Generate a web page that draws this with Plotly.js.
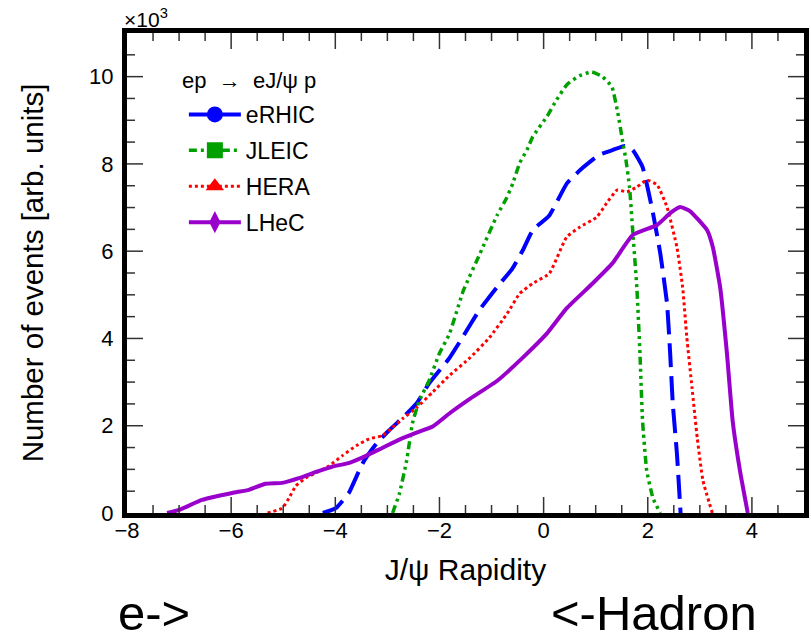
<!DOCTYPE html>
<html>
<head>
<meta charset="utf-8">
<script src="https://cdn.plot.ly/plotly-3.0.1.min.js"></script>
<style>html,body{margin:0;padding:0;background:#fff;}</style>
</head>
<body>
<div id="chart" style="width:811px;height:640px;"></div>
<script>
// Series names
const seriesNames = ["eRHIC", "JLEIC", "HERA", "LHeC"];

// eRHIC (blue, long dashes)
const eRHIC_x = [-4.24, -3.99, -3.74, -3.48, -3.21, -2.97, -2.71, -2.44, -2.20, -1.81, -1.56, -1.24, -0.90, -0.60, -0.40, -0.21, 0.11, 0.45, 0.75, 1.07, 1.33, 1.56, 1.71, 1.90, 2.10, 2.24, 2.37, 2.43, 2.48, 2.56, 2.63];
const eRHIC_y = [0, 0.11, 0.46, 1.13, 1.59, 1.89, 2.18, 2.51, 2.97, 3.55, 4.02, 4.64, 5.17, 5.60, 6.02, 6.48, 6.82, 7.56, 7.91, 8.21, 8.32, 8.41, 8.32, 7.93, 6.87, 5.95, 4.80, 3.66, 2.51, 1.36, 0];

// JLEIC (green, dash-dot)
const JLEIC_x = [-2.90, -2.77, -2.63, -2.52, -2.39, -2.20, -2.00, -1.81, -1.54, -1.22, -0.89, -0.71, -0.59, -0.46, -0.32, -0.21, 0.06, 0.25, 0.45, 0.69, 0.92, 1.13, 1.31, 1.42, 1.52, 1.58, 1.65, 1.71, 1.79, 1.85, 1.90, 1.98, 2.10, 2.24];
const JLEIC_y = [0, 0.44, 1.20, 2.05, 2.57, 3.03, 3.66, 4.10, 5.10, 5.95, 6.83, 7.22, 7.56, 8.02, 8.32, 8.62, 9.08, 9.47, 9.82, 10.02, 10.11, 10.0, 9.77, 9.20, 8.50, 8.10, 7.47, 6.48, 5.17, 3.66, 2.11, 0.97, 0.34, 0];

// HERA (red, dotted)
const HERA_x = [-5.30, -5.02, -4.89, -4.76, -4.57, -4.37, -4.12, -3.87, -3.60, -3.35, -3.10, -2.91, -2.71, -2.44, -2.14, -1.81, -1.41, -1.04, -0.70, -0.46, -0.21, 0.11, 0.44, 0.69, 1.02, 1.21, 1.41, 1.60, 1.79, 1.98, 2.18, 2.37, 2.56, 2.67, 2.75, 2.85, 2.95, 3.06, 3.24];
const HERA_y = [0, 0.11, 0.34, 0.62, 0.80, 0.92, 1.08, 1.31, 1.54, 1.70, 1.77, 1.95, 2.16, 2.41, 2.76, 3.15, 3.56, 4.02, 4.57, 5.03, 5.26, 5.49, 6.32, 6.55, 6.78, 7.10, 7.40, 7.36, 7.47, 7.63, 7.52, 7.01, 6.09, 5.17, 4.02, 2.87, 1.72, 0.74, 0];

// LHeC (purple, solid)
const LHeC_x = [-7.23, -7.0, -6.56, -5.98, -5.66, -5.34, -5.02, -4.70, -4.37, -4.06, -3.73, -3.41, -3.10, -2.77, -2.44, -2.13, -1.81, -1.41, -0.89, -0.40, 0.06, 0.44, 0.94, 1.32, 1.71, 2.18, 2.43, 2.62, 2.81, 3.14, 3.25, 3.39, 3.52, 3.63, 3.77, 3.92];
const LHeC_y = [0, 0.07, 0.30, 0.46, 0.53, 0.67, 0.69, 0.80, 0.94, 1.06, 1.15, 1.31, 1.49, 1.68, 1.84, 1.98, 2.28, 2.62, 3.03, 3.56, 4.11, 4.69, 5.26, 5.72, 6.37, 6.60, 6.87, 7.01, 6.92, 6.48, 6.09, 5.17, 3.66, 2.11, 0.97, 0];

// Axis ranges, tick spacing and text
const xRange = [-8, 5];
const yRange = [0, 11];
const majorStep = 2;
const minorStep = 0.5;
const legendTitle = "ep\u00a0\u00a0\u2192\u00a0\u00a0eJ/\u03c8\u00a0p";

const FONT = "Liberation Sans, Arial, Helvetica, sans-serif";
const NONE = "rgba(0,0,0,0)";
const TICKC = "#333333";

const styles = [
  {color: "#0000ff", dash: "24px,9px", width: 4, symbol: "circle"},
  {color: "#00a000", dash: "8px,4px,3px,4px,3px,4px,3px,4px", width: 3.5, symbol: "square"},
  {color: "#ff0000", dash: "3px,3px", width: 3, symbol: "triangle-up"},
  {color: "#9900cc", dash: "solid", width: 4, symbol: "diamond-tall"}
];
const xs = [eRHIC_x, JLEIC_x, HERA_x, LHeC_x];
const ys = [eRHIC_y, JLEIC_y, HERA_y, LHeC_y];

const traces = [];
for (let i = 0; i < 4; i++) {
  traces.push({
    type: "scatter", mode: "lines", x: xs[i], y: ys[i],
    line: {color: styles[i].color, dash: styles[i].dash, width: styles[i].width, shape: "spline", smoothing: 0.4},
    showlegend: false, hoverinfo: "skip"
  });
}
// legend-only entries (no data points)
for (let i = 0; i < 4; i++) {
  traces.push({
    type: "scatter", mode: "lines+markers", x: [null], y: [null],
    name: seriesNames[i], legendgroup: "g" + i,
    line: {color: styles[i].color, dash: styles[i].dash, width: styles[i].width},
    marker: {color: styles[i].color, symbol: styles[i].symbol, size: 17, line: {width: 0}},
    showlegend: true, hoverinfo: "skip"
  });
}

// Inside tick marks on all four frame sides (major every 2, minor every 0.5),
// positioned through the axes' own coordinates.
function tickShapes() {
  const shapes = [];
  const LINE = {color: TICKC, width: 1.5};
  const nx = Math.round((xRange[1] - xRange[0]) / minorStep);
  for (let i = 1; i < nx; i++) {
    const v = xRange[0] + i * minorStep;
    const len = (i % Math.round(majorStep / minorStep) === 0) ? 16 : 8;
    shapes.push({type: "line", xref: "x", yref: "y", x0: v, x1: v, ysizemode: "pixel", yanchor: yRange[0], y0: 0, y1: len, line: LINE, layer: "above"});
    shapes.push({type: "line", xref: "x", yref: "y", x0: v, x1: v, ysizemode: "pixel", yanchor: yRange[1], y0: 0, y1: -len, line: LINE, layer: "above"});
  }
  const ny = Math.round((yRange[1] - yRange[0]) / minorStep);
  for (let i = 1; i < ny; i++) {
    const v = yRange[0] + i * minorStep;
    const len = (i % Math.round(majorStep / minorStep) === 0) ? 16 : 8;
    shapes.push({type: "line", xref: "x", yref: "y", y0: v, y1: v, xsizemode: "pixel", xanchor: xRange[0], x0: 0, x1: len, line: LINE, layer: "above"});
    shapes.push({type: "line", xref: "x", yref: "y", y0: v, y1: v, xsizemode: "pixel", xanchor: xRange[1], x0: 0, x1: -len, line: LINE, layer: "above"});
  }
  return shapes;
}

const layout = {
  width: 811, height: 640,
  margin: {l: 127, r: 7, t: 33, b: 127},
  font: {family: FONT, color: "#000000", size: 20},
  showlegend: true,
  legend: {
    x: 0.084, y: 0.875, xanchor: "left", yanchor: "top",
    bgcolor: NONE, borderwidth: 0,
    font: {family: FONT, size: 23, color: "#000"},
    tracegroupgap: 3, traceorder: "grouped", itemwidth: 52
  },
  xaxis: {
    range: xRange, tick0: xRange[0], dtick: majorStep, ticks: "",
    showline: true, linewidth: 5, linecolor: "#000", mirror: true,
    gridcolor: NONE, zerolinecolor: NONE, showgrid: false, zeroline: false,
    tickfont: {family: FONT, size: 22, color: "#000"},
    ticklabelstandoff: -6,
    title: {text: "J/\u03c8 Rapidity", font: {family: FONT, size: 30, color: "#000"}, standoff: 18}
  },
  yaxis: {
    range: yRange, tick0: yRange[0], dtick: majorStep, ticks: "",
    showline: true, linewidth: 5, linecolor: "#000", mirror: true,
    gridcolor: NONE, zerolinecolor: NONE, showgrid: false, zeroline: false,
    tickfont: {family: FONT, size: 22, color: "#000"},
    ticklabelstandoff: 4,
    title: {text: "Number of events [arb. units]", font: {family: FONT, size: 29.5, color: "#000"}, standoff: 38}
  },
  shapes: tickShapes(),
  annotations: [
    {xref: "paper", yref: "paper", x: -0.007, y: 1.0, xanchor: "left", yanchor: "bottom", showarrow: false,
     text: "\u00d710<sup>3</sup>", font: {family: FONT, size: 21, color: "#000"}},
    {xref: "paper", yref: "paper", x: 0.078, y: 0.902, xanchor: "left", yanchor: "middle", showarrow: false,
     text: legendTitle, font: {family: FONT, size: 22, color: "#000"}},
    {xref: "paper", yref: "paper", x: -0.016, y: -0.208, xanchor: "left", yanchor: "middle", showarrow: false,
     text: "e-&gt;", font: {family: FONT, size: 49, color: "#000"}},
    {xref: "paper", yref: "paper", x: 0.624, y: -0.208, xanchor: "left", yanchor: "middle", showarrow: false,
     text: "&lt;-Hadron", font: {family: FONT, size: 49, color: "#000"}}
  ]
};

Plotly.newPlot("chart", traces, layout, {displayModeBar: false});
</script>
</body>
</html>
